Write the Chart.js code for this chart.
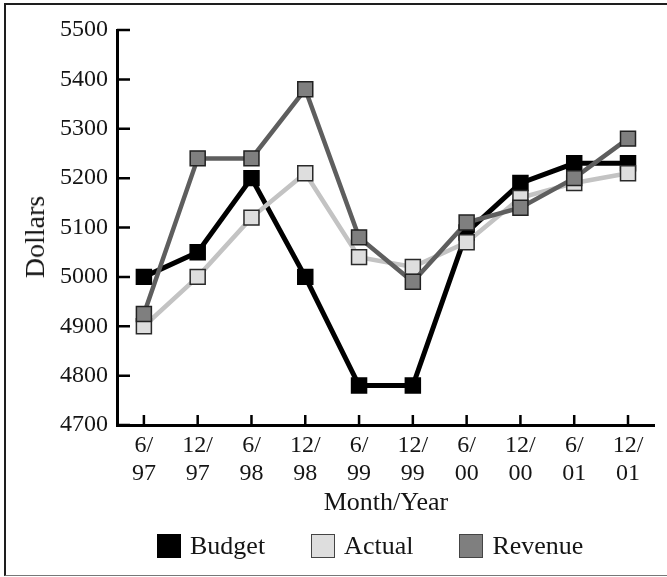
<!DOCTYPE html>
<html>
<head>
<meta charset="utf-8">
<script src="https://cdn.jsdelivr.net/npm/chart.js@4.4.1/dist/chart.umd.min.js"></script>
<style>
  html, body { margin: 0; padding: 0; background: #fff; overflow: hidden; }
  #wrap { position: relative; width: 667px; height: 577px; overflow: hidden; }
  #frame { position: absolute; left: 4px; top: 3px; width: 720px; height: 570px;
           border-left: 2px solid #1e1e1e; border-top: 2px solid #1e1e1e; border-bottom: 1px solid #777; }
  #chart { position: absolute; left: 0; top: 0; }
  #ytitle { position: absolute; left: 35px; top: 237px; transform: translate(-50%, -50%) rotate(-90deg);
            font-family: "Liberation Serif", "Times New Roman", serif; font-size: 28px; color: #151515;
            white-space: nowrap; line-height: 1; }
  #legend { position: absolute; top: 533px; left: 157px; display: flex;
            font-family: "Liberation Serif", "Times New Roman", serif; font-size: 26px; color: #151515; }
  .item { display: flex; align-items: center; height: 25px; margin-right: 46px; }
  .box { width: 24px; height: 24px; box-sizing: border-box; border: 1px solid #333; margin-right: 9px; }
</style>
</head>
<body>
<div id="wrap">
  <div id="frame"></div>
  <canvas id="chart" width="667" height="577"></canvas>
  <div id="ytitle">Dollars</div>
  <div id="legend"></div>
</div>
<script>
// Half-year periods: month part and year part of each label
const months = ['6/', '12/', '6/', '12/', '6/', '12/', '6/', '12/', '6/', '12/'];
const years  = ['97', '97', '98', '98', '99', '99', '00', '00', '01', '01'];

// Series values in dollars
const budget  = [5000, 5050, 5200, 5000, 4780, 4780, 5090, 5190, 5230, 5230];
const actual  = [4900, 5000, 5120, 5210, 5040, 5020, 5070, 5160, 5190, 5210];
const revenue = [4925, 5240, 5240, 5380, 5080, 4990, 5110, 5140, 5200, 5280];

// Y axis range and step
const yMin = 4700;
const yMax = 5500;
const yStep = 100;

const serif = '"Liberation Serif", "Times New Roman", serif';
const ink = '#151515';

const series = [
  { name: 'Budget',  values: budget,  line: '#000000', fill: '#000000', edge: '#000000', width: 5 },
  { name: 'Actual',  values: actual,  line: '#c3c3c3', fill: '#dedede', edge: '#2a2a2a', width: 4.5 },
  { name: 'Revenue', values: revenue, line: '#5e5e5e', fill: '#7f7f7f', edge: '#222222', width: 4.5 }
];

// Revenue is painted on top, Budget underneath
const datasets = series.slice().reverse().map(s => ({
  label: s.name,
  data: s.values,
  borderColor: s.line,
  backgroundColor: s.fill,
  borderWidth: s.width,
  tension: 0,
  pointStyle: 'rect',
  pointRadius: 10.6,
  pointHoverRadius: 10.6,
  pointBackgroundColor: s.fill,
  pointBorderColor: s.edge,
  pointBorderWidth: 1.5
}));

// Short tick marks pointing into the plot area
const inwardTicks = {
  id: 'inwardTicks',
  beforeDatasetsDraw(chart) {
    const { ctx, chartArea, scales } = chart;
    ctx.save();
    ctx.strokeStyle = '#000';
    ctx.lineWidth = 2.5;
    ctx.beginPath();
    scales.y.ticks.forEach((t, i) => {
      const py = scales.y.getPixelForTick(i);
      ctx.moveTo(chartArea.left, py);
      ctx.lineTo(chartArea.left + 13, py);
    });
    scales.x.ticks.forEach((t, i) => {
      const px = scales.x.getPixelForTick(i);
      ctx.moveTo(px, chartArea.bottom);
      ctx.lineTo(px, chartArea.bottom - 10);
    });
    ctx.stroke();
    ctx.restore();
  }
};

new Chart(document.getElementById('chart'), {
  type: 'line',
  data: {
    labels: months.map((m, i) => [m, years[i]]),
    datasets: datasets
  },
  options: {
    responsive: false,
    animation: false,
    events: [],
    layout: { padding: { left: 10, top: 30, right: 12, bottom: 58 } },
    plugins: {
      legend: { display: false },
      tooltip: { enabled: false }
    },
    scales: {
      x: {
        type: 'category',
        offset: true,
        grid: { display: false },
        border: { display: true, color: '#000', width: 3 },
        ticks: {
          font: { family: serif, size: 24 },
          color: ink,
          padding: -2,
          maxRotation: 0,
          autoSkip: false
        },
        title: {
          display: true,
          text: 'Month/Year',
          font: { family: serif, size: 26 },
          color: ink,
          padding: { top: 2, bottom: 0 }
        },
        afterFit(scale) { scale.height = 94; }
      },
      y: {
        min: yMin,
        max: yMax,
        grid: { display: false },
        border: { display: true, color: '#000', width: 3 },
        ticks: {
          stepSize: yStep,
          font: { family: serif, size: 24 },
          color: ink,
          padding: 1,
          callback: v => String(v)
        },
        title: { display: false },
        afterFit(scale) { scale.width = 107; }
      }
    }
  },
  plugins: [inwardTicks]
});

// Legend row below the chart
const legend = document.getElementById('legend');
series.forEach(s => {
  const item = document.createElement('div');
  item.className = 'item';
  const box = document.createElement('span');
  box.className = 'box';
  box.style.background = s.fill;
  box.style.borderColor = s.name === 'Budget' ? '#000' : '#444';
  const text = document.createElement('span');
  text.textContent = s.name;
  item.appendChild(box);
  item.appendChild(text);
  legend.appendChild(item);
});
</script>
</body>
</html>
